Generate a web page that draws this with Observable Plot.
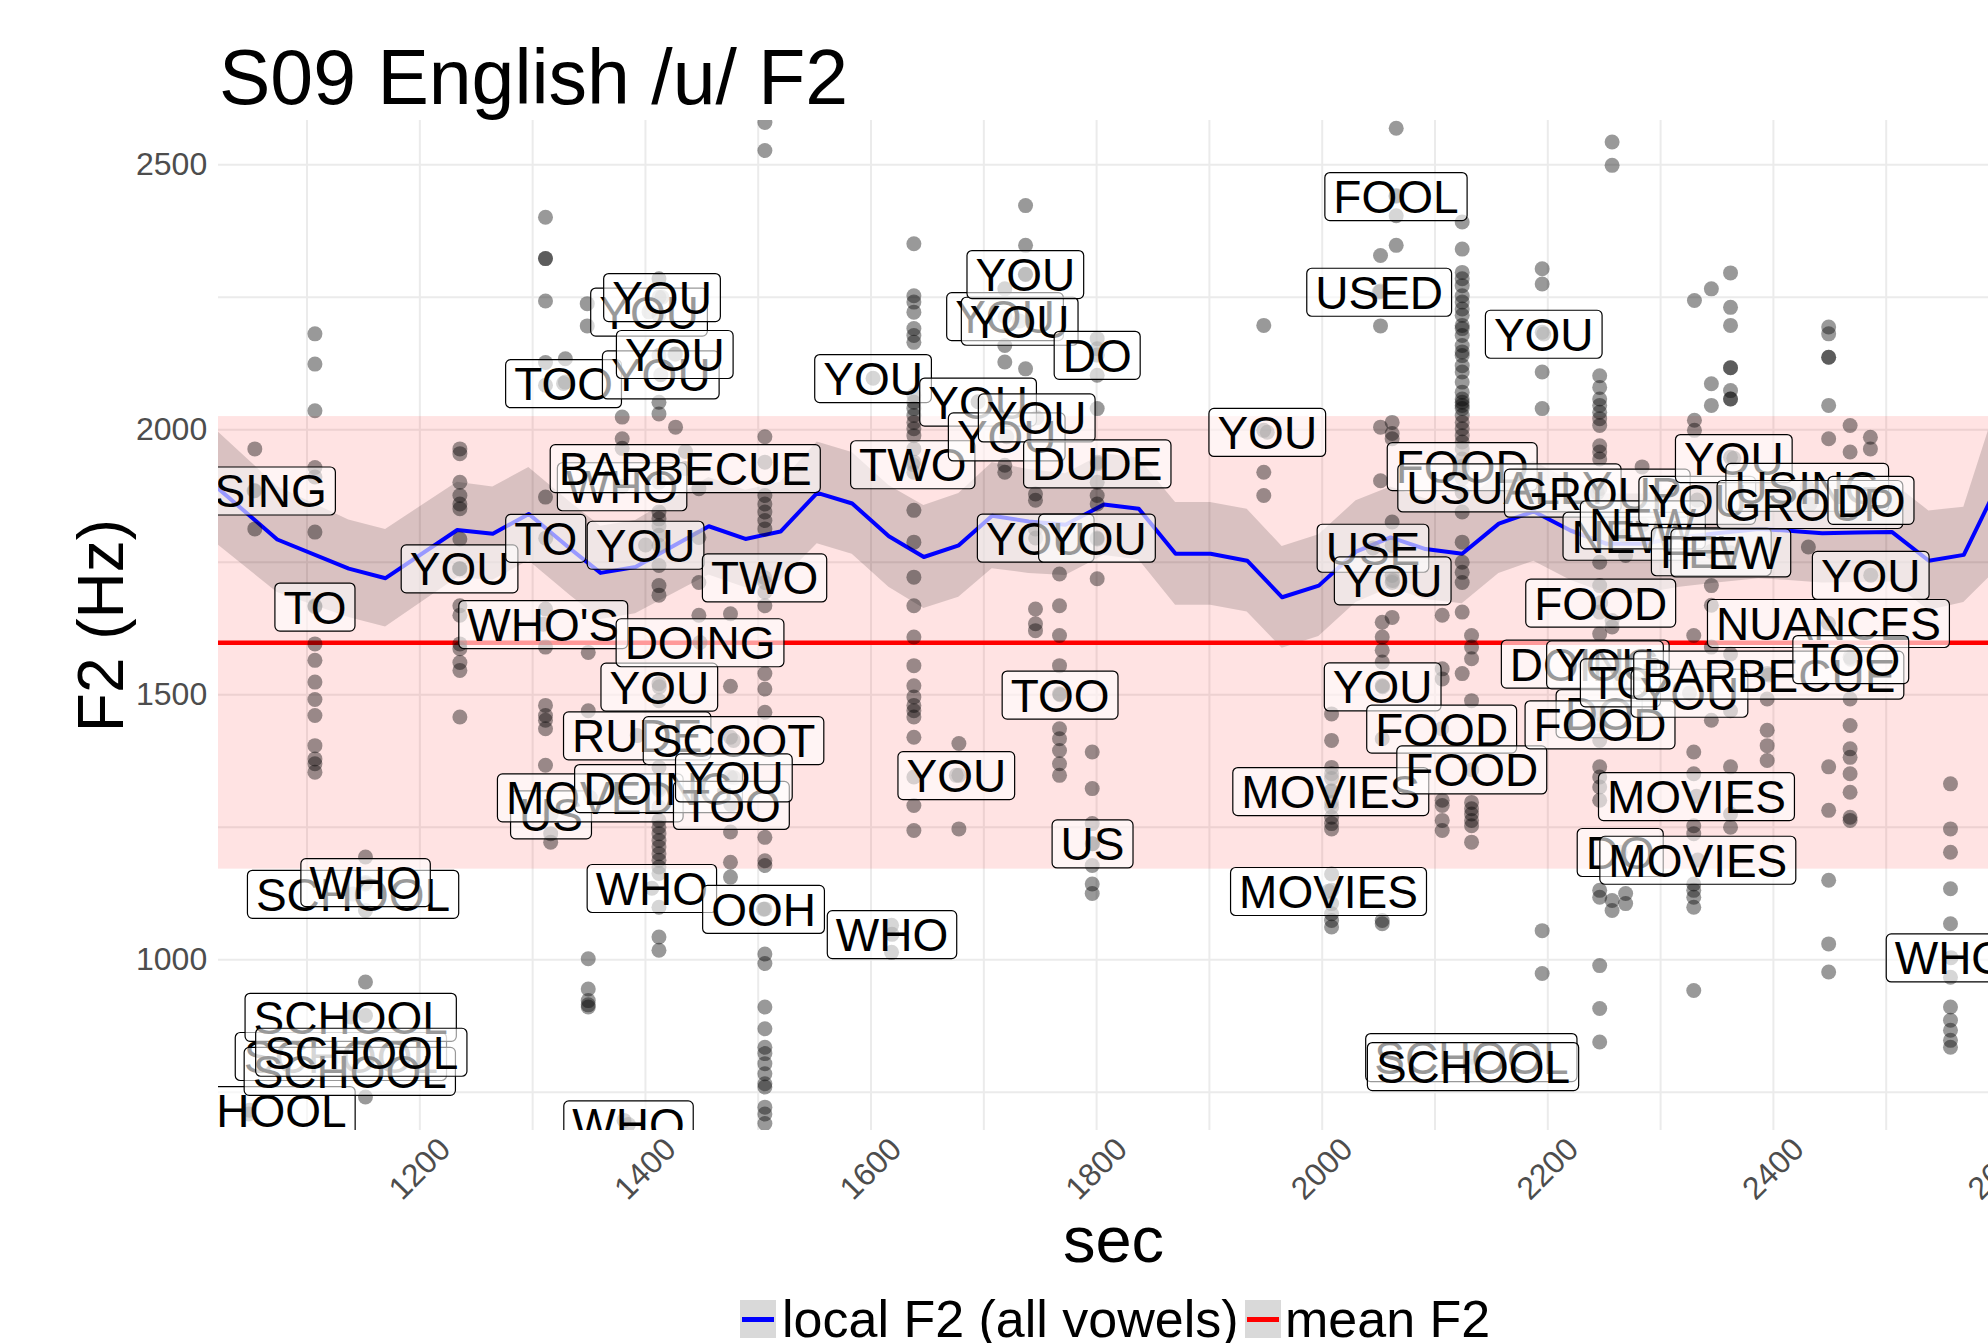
<!DOCTYPE html>
<html>
<head>
<meta charset="utf-8">
<script src="https://cdn.jsdelivr.net/npm/d3@7"></script>
<script src="https://cdn.jsdelivr.net/npm/@observablehq/plot@0.6"></script>
<style>
  body { margin: 0; background: #fff; font-family: "Liberation Sans", Arial, Helvetica, sans-serif; }
  #wrap { position: relative; width: 1988px; height: 1343px; overflow: hidden; background: #fff; }
  #title { position: absolute; left: 219px; top: 39px; font-size: 77px; line-height: 77px; white-space: nowrap; color: #000; }
  #chart { position: absolute; left: 0; top: 120px; }
  .key { position: absolute; top: 1300px; width: 36px; height: 38px; background: #d9d9d9; }
  .key span { position: absolute; left: 2px; right: 2px; top: 16.5px; height: 5px; }
  .ltext { position: absolute; top: 1293px; font-size: 52px; line-height: 52px; white-space: nowrap; color: #000; }
</style>
</head>
<body>
<div id="wrap">
  <div id="title">S09 English /u/ F2</div>
  <div id="chart"></div>
  <div class="key" style="left:740px"><span style="background:#0000ff"></span></div>
  <div class="ltext" style="left:782px">local F2 (all vowels)</div>
  <div class="key" style="left:1245px"><span style="background:#ff0000"></span></div>
  <div class="ltext" style="left:1285px">mean F2</div>
</div>
<script>
// ---- axis settings ----
const xDomain = [1021.5, 2590.7];
const yDomain = [677.9, 2583.6];
const xTicks = [1200, 1400, 1600, 1800, 2000, 2200, 2400, 2600];
const yTicks = [1000, 1500, 2000, 2500];
const xGrid = [1100, 1200, 1300, 1400, 1500, 1600, 1700, 1800, 1900, 2000, 2100, 2200, 2300, 2400, 2500];
const yGrid = [750, 1000, 1250, 1500, 1750, 2000, 2250, 2500];

// ---- speaker mean F2 and band (mean +/- sd) ----
const meanF2 = 1598;
const sdF2 = 427;

// ---- local F2 (all vowels): time, value, half-width of ribbon ----
const localSec = [1010, 1073.6, 1137, 1169.6, 1233.2, 1264.7, 1296.6, 1333.6, 1360.2, 1391.2, 1456.2, 1488.7, 1519.8, 1552.3, 1583.3, 1615.8, 1646.8, 1677.8, 1707.4, 1739.9, 1772.4, 1806.4, 1837.4, 1870, 1901, 1933.5, 1964.5, 1997, 2030, 2060.6, 2091.6, 2124.1, 2156.6, 2187.6, 2220.1, 2252, 2285, 2317, 2350, 2387, 2410.7, 2443.3, 2475, 2505.3, 2537.8, 2568.8, 2600];
const localF2  = [1910, 1793, 1738, 1720, 1811, 1804, 1841, 1775, 1730, 1741, 1818, 1794, 1808, 1881, 1861, 1799, 1760, 1782, 1838, 1827, 1821, 1859, 1851, 1766, 1766, 1753, 1684, 1706, 1770, 1797, 1775, 1766, 1823, 1846, 1810, 1785, 1785, 1797, 1805, 1813, 1810, 1805, 1806, 1807, 1753, 1764, 1900];
const localSE  = [108, 100, 92, 92, 90, 88, 88, 88, 88, 88, 92, 92, 93, 96, 96, 96, 97, 98, 100, 98, 96, 96, 96, 97, 97, 97, 96, 96, 96, 95, 95, 94, 94, 94, 94, 94, 94, 94, 94, 94, 94, 94, 94, 94, 94, 90, 160];

// ---- F2 measurements: [token time (sec), F2 values (Hz)] ----
const pointColumns = [
  [1053.7, [1964, 1885, 1813]],
  [1048.4, [709]],
  [1107, [2181, 2124, 2036, 1929, 1911, 1807, 1668, 1596, 1565, 1524, 1491, 1461, 1404, 1379, 1370, 1354]],
  [1151.8, [1194, 1143, 1093, 958, 895, 741]],
  [1235.5, [1964, 1955, 1901, 1876, 1860, 1851, 1794, 1738, 1668, 1650, 1596, 1587, 1561, 1546, 1458]],
  [1311.4, [2401, 2323, 2323, 2243, 2127, 2084, 1873, 1662, 1590, 1480, 1461, 1452, 1436, 1367]],
  [1316, [1238, 1222]],
  [1329, [2134, 2090]],
  [1348.4, [2238, 2196]],
  [1349.3, [1580, 1470, 1002, 945, 923, 915, 911]],
  [1379.4, [2024, 1983, 1965]],
  [1381, [697]],
  [1412, [2285, 2250, 2216, 2140, 2052, 2030, 1901, 1845, 1832, 1819, 1801, 1782, 1744, 1706, 1688, 1521, 1489, 1363, 1320, 1288, 1263, 1250, 1238, 1225, 1213, 1200, 1188, 1175, 1163, 1099, 1043, 1018]],
  [1426.7, [2143, 2005]],
  [1435.5, [1959]],
  [1447.4, [1889, 1797, 1712, 1650]],
  [1475.4, [1653, 1516, 1420, 1345, 1294, 1241, 1184, 1156]],
  [1505.9, [2580, 2527, 1987, 1939, 1876, 1860, 1845, 1829, 1813, 1712, 1694, 1668, 1540, 1511, 1467, 1231, 1187, 1178, 1096, 1011, 993, 911, 870, 835, 823, 804, 785, 766, 760, 722, 709, 691]],
  [1618.2, [1065, 1014]],
  [1638, [2351, 2253, 2241, 2222, 2191, 2178, 2165, 2065, 2052, 2040, 2027, 2014, 2002, 1989, 1964, 1939, 1920, 1848, 1788, 1722, 1668, 1609, 1555, 1517, 1496, 1480, 1470, 1458, 1420, 1345, 1291, 1244]],
  [1677.9, [1408, 1348, 1247]],
  [1718.6, [2266, 2159, 2128, 1933, 1920]],
  [1737, [2423, 2348, 2293, 2115]],
  [1745.8, [1879, 1867, 1813, 1662, 1634, 1621]],
  [1767.1, [1728, 1668, 1612, 1555, 1502, 1436, 1417, 1395, 1370, 1348]],
  [1796.1, [1392, 1323, 1257, 1219, 1178, 1143, 1125]],
  [1800.5, [2172, 2153, 2103, 2040, 1939, 1901, 1876, 1860, 1794, 1719]],
  [1948.2, [2197, 1999, 1920, 1876]],
  [2008.3, [1464, 1414, 1363, 1351, 1342, 1319, 1297, 1288, 1269, 1257, 1247, 1162, 1131, 1106, 1087, 1074, 1062]],
  [2051.7, [2329, 2262, 2196, 2005, 1904]],
  [2053.2, [1637, 1609, 1584, 1562, 1517, 1417, 1074, 1068]],
  [2062, [2014, 1993, 1983, 1826, 1782, 1725, 1712, 1646]],
  [2065.6, [2569, 2442, 2404, 2348]],
  [2106.4, [1650, 1549, 1530, 1301, 1291, 1263, 1244]],
  [2124.1, [2392, 2341, 2297, 2285, 2272, 2253, 2241, 2228, 2216, 2197, 2191, 2178, 2159, 2147, 2140, 2121, 2109, 2090, 2071, 2058, 2052, 2046, 2040, 2027, 2014, 2002, 1989, 1977, 1964, 1945, 1926, 1908, 1882, 1845, 1788, 1750, 1731, 1712, 1656, 1540]],
  [2132.4, [1612, 1590, 1568, 1489, 1297, 1285, 1275, 1263, 1253, 1222]],
  [2195, [2304, 2275, 2184, 2109, 2040, 1055, 974]],
  [2246, [2102, 2080, 2058, 2046, 2033, 2021, 2008, 1970, 1958, 1945, 1889, 1750, 1706, 1656, 1615, 1414, 1364, 1345, 1326, 1301, 1131, 1118, 989, 908, 845]],
  [2257, [2543, 2499, 1640, 1628, 1112, 1093]],
  [2269, [1763, 1125, 1106]],
  [2283.6, [1930]],
  [2329.4, [1612, 1392, 1351, 1253, 1238, 1143, 1131, 1118, 1099, 942]],
  [2330, [2244, 2018, 1999]],
  [2345, [2266, 2087, 2046, 1706, 1669, 1590, 1452]],
  [2362, [2296, 2231, 2197, 2117, 2117, 2074, 2058, 2058, 1948, 1577, 1470, 1364, 1275, 1250]],
  [2394.5, [1540, 1492, 1433, 1404, 1376]],
  [2431, [1779]],
  [2449, [2194, 2181, 2137, 2137, 2046, 1983, 1364, 1282, 1150, 1030, 977]],
  [2468, [2008, 1958, 1571, 1492, 1442, 1398, 1382, 1351, 1316, 1269, 1263]],
  [2486, [1986, 1964]],
  [2557, [1332, 1247, 1203, 1134, 1068, 967, 911, 886, 867, 848, 835]]
];

// ---- word labels: [word, token time (sec), F2 (Hz)] ----
const wordLabels = [
  ["USING", 1053, 1885], ["SCHOOL", 1049, 716], ["TO", 1107, 1666], ["SCHOOL", 1130, 818],
  ["SCHOOL", 1137.9, 790], ["SCHOOL", 1138.7, 892], ["SCHOOL", 1140.8, 1124], ["SCHOOL", 1148.1, 826],
  ["WHO", 1151.9, 1146], ["YOU", 1235.2, 1738], ["WHO'S", 1309.4, 1633], ["TO", 1311.6, 1795.6],
  ["US", 1316.3, 1274], ["TOO", 1327.4, 2087.5], ["MOVED", 1351.1, 1306], ["WHO", 1379.3, 1893],
  ["WHO", 1385, 689], ["RUDE", 1392.7, 1423], ["YOU", 1400.1, 1782.6], ["YOU", 1403.2, 2222.6],
  ["WHO", 1405.7, 1135], ["DOING", 1411.6, 1323.6], ["YOU", 1412.3, 1515], ["YOU", 1413.6, 2104],
  ["YOU", 1414.7, 2250], ["YOU", 1426, 2142.6], ["BARBECUE", 1435.3, 1927.2], ["DOING", 1448.4, 1598.7],
  ["TOO", 1476.2, 1291.7], ["SCOOT", 1478.1, 1414], ["YOU", 1478.4, 1343.6], ["OOH", 1504.7, 1095.5],
  ["TWO", 1505.6, 1721], ["YOU", 1601.8, 2097.2], ["WHO", 1618.6, 1048], ["TWO", 1637, 1934.5],
  ["YOU", 1675.6, 1348], ["YOU", 1694.9, 2052.8], ["YOU", 1718.8, 2214], ["YOU", 1720.3, 1987],
  ["YOU", 1731.8, 2205.3], ["YOU", 1736.8, 2293.4], ["YOU", 1746, 1795.9], ["YOU", 1746.9, 2022.8],
  ["TOO", 1767.6, 1500], ["US", 1796.4, 1219], ["YOU", 1800.3, 1795.9], ["DO", 1800.5, 2141],
  ["DUDE", 1800.6, 1936], ["YOU", 1951.3, 1995.5], ["MOVIES", 2005.6, 1129.3], ["MOVIES", 2007.6, 1317.9],
  ["USE", 2045, 1777], ["USED", 2050.5, 2260], ["YOU", 2053.6, 1515.3], ["YOU", 2062.5, 1715.6],
  ["FOOL", 2065.4, 2440.6], ["FOOD", 2105.9, 1435.8], ["FOOD", 2124.1, 1931], ["SCHOOL", 2132.2, 816],
  ["FOOD", 2132.6, 1358.7], ["SCHOOL", 2133.7, 799], ["USUALLY", 2166, 1890.8], ["YOU", 2196.4, 2180.8],
  ["DOING", 2233.2, 1558.5], ["GROUP", 2243.9, 1880.9], ["DO", 2245.5, 1464.7], ["FOOD", 2246.3, 1443.9],
  ["FOOD", 2246.9, 1673.6], ["YOU", 2250.7, 1557], ["DO", 2264.2, 1202.9], ["TO", 2264.4, 1523],
  ["NEW", 2268.6, 1799.6], ["NEW", 2284, 1821], ["YOU", 2325.6, 1503.4], ["MOVIES", 2331.8, 1308.5],
  ["YOU", 2332.5, 1867.5], ["MOVIES", 2333, 1188.3], ["FEW", 2344.7, 1770.4], ["FEW", 2362, 1768.1],
  ["YOU", 2364.9, 1946.2], ["BARBECUE", 2395.9, 1537.4], ["USING", 2430, 1891.7], ["GROUP", 2432.4, 1859.5],
  ["NUANCES", 2448.8, 1635], ["TOO", 2468.6, 1567], ["YOU", 2486.3, 1725.7], ["DO", 2486.5, 1867.5],
  ["WHO", 2557.4, 1004]
];

// ---- build tables ----
const local = localSec.map((s, i) => ({sec: s, f2: localF2[i], lo: localF2[i] - localSE[i], hi: localF2[i] + localSE[i]}));
const labels = wordLabels.map(([w, s, f]) => ({word: w, sec: s, f2: f})).sort((a, b) => a.sec - b.sec);
const points = [];
for (const [s, vals] of pointColumns) for (const v of vals) points.push({sec: s, f2: v});
for (const l of labels) points.push({sec: l.sec, f2: l.f2});

const font = "Liberation Sans, Arial, Helvetica, sans-serif";
const LABEL_SIZE = 46;

const chart = Plot.plot({
  width: 1988,
  height: 1170,
  marginLeft: 218,
  marginRight: 0,
  marginTop: 0,
  marginBottom: 160,
  x: {domain: xDomain, axis: null},
  y: {domain: yDomain, axis: null},
  style: {fontFamily: font, background: "white", overflow: "visible"},
  marks: [
    Plot.ruleX(xGrid, {x: d => d, stroke: "#ebebeb", strokeWidth: 2, strokeOpacity: 1}),
    Plot.ruleY(yGrid, {y: d => d, stroke: "#ebebeb", strokeWidth: 2, strokeOpacity: 1}),
    Plot.rect([{lo: meanF2 - sdF2, hi: meanF2 + sdF2}], {x1: () => xDomain[0], x2: () => xDomain[1], y1: "lo", y2: "hi", fill: "#ff0000", fillOpacity: 0.11}),
    Plot.areaY(local, {x: "sec", y1: "lo", y2: "hi", fill: "#000000", fillOpacity: 0.15, clip: true}),
    Plot.line(local, {x: "sec", y: "f2", stroke: "#0000ff", strokeWidth: 4, clip: true}),
    Plot.ruleY([meanF2], {y: d => d, stroke: "#ff0000", strokeWidth: 4.5}),
    Plot.dot(points, {x: "sec", y: "f2", r: 7.5, fill: "#000000", fillOpacity: 0.4, stroke: null, clip: true}),
    Plot.text(labels, {x: "sec", y: "f2", text: "word", fontSize: LABEL_SIZE, fill: "#000000", textAnchor: "middle", lineAnchor: "middle", dy: 2, clip: true}),
    Plot.text(xTicks, {x: d => d, text: d => String(d), frameAnchor: "bottom", textAnchor: "middle", lineAnchor: "middle", dy: 38.5, rotate: -45, fontSize: 32, fill: "#4d4d4d"}),
    Plot.text(yTicks, {y: d => d, text: d => String(d), frameAnchor: "left", textAnchor: "end", lineAnchor: "middle", dx: -11.3, fontSize: 32, fill: "#4d4d4d"}),
    Plot.text(["sec"], {text: d => d, frameAnchor: "bottom", textAnchor: "middle", lineAnchor: "middle", dx: 10, dy: 111, fontSize: 65, fill: "#000000"}),
    Plot.text(["F2 (Hz)"], {text: d => d, frameAnchor: "left", textAnchor: "middle", lineAnchor: "middle", dx: -115.5, rotate: -90, fontSize: 64, fill: "#000000"})
  ]
});

document.getElementById("chart").appendChild(chart);

// boxes behind each word label (geom_label style)
const svgNS = "http://www.w3.org/2000/svg";
let lg = null;
chart.querySelectorAll("g").forEach(g => {
  if (!lg && g.getAttribute("font-size") === String(LABEL_SIZE)) lg = g;
});
if (lg) {
  Array.from(lg.querySelectorAll("text")).forEach(t => {
    const bb = t.getBBox();
    const r = document.createElementNS(svgNS, "rect");
    const padX = 8.5, h = 48;
    r.setAttribute("x", bb.x - padX);
    r.setAttribute("width", bb.width + 2 * padX);
    r.setAttribute("y", -1.75 - h / 2);
    r.setAttribute("height", h);
    r.setAttribute("rx", 5);
    r.setAttribute("ry", 5);
    r.setAttribute("fill", "#ffffff");
    r.setAttribute("fill-opacity", 0.6);
    r.setAttribute("stroke", "#000000");
    r.setAttribute("stroke-width", 1.2);
    const tr = t.getAttribute("transform");
    if (tr) r.setAttribute("transform", tr);
    t.parentNode.insertBefore(r, t);
  });
}
</script>
</body>
</html>
